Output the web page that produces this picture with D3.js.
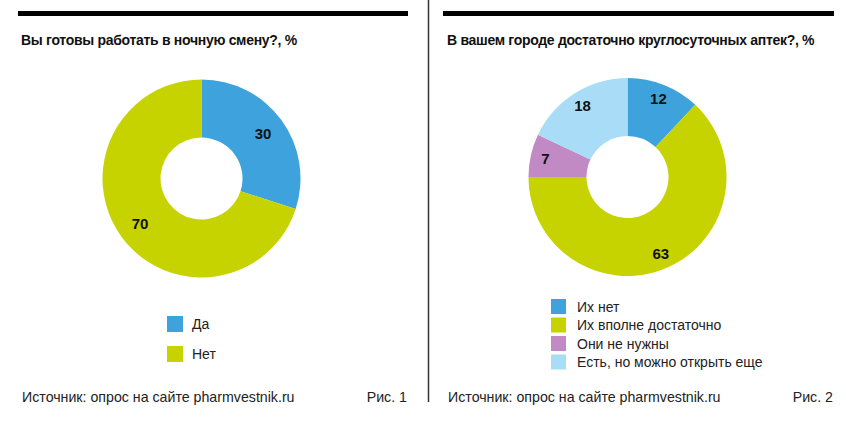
<!DOCTYPE html>
<html><head><meta charset="utf-8">
<script src="https://cdn.jsdelivr.net/npm/d3@7"></script>
<style>body{margin:0;background:#fff;} svg{display:block;font-family:"Liberation Sans",Arial,sans-serif;}</style>
</head><body>
<svg id="c" width="846" height="425"></svg>
<script>
const title1 = "Вы готовы работать в ночную смену?, %";
const categories1 = ["Да", "Нет"];
const values1 = [30, 70];
const colors1 = ["#3ea3dd", "#c6d300"];

const title2 = "В вашем городе достаточно круглосуточных аптек?, %";
const categories2 = ["Их нет", "Их вполне достаточно", "Они не нужны", "Есть, но можно открыть еще"];
const values2 = [12, 63, 7, 18];
const colors2 = ["#3ea3dd", "#c6d300", "#c28ac4", "#a8dcf7"];

const source = "Источник: опрос на сайте pharmvestnik.ru";
const figs = ["Рис. 1", "Рис. 2"];

const svg = d3.select("#c");

// separator
svg.append("line").attr("x1", 428.5).attr("x2", 428.5).attr("y1", 0).attr("y2", 402)
  .attr("stroke", "#333").attr("stroke-width", 1.5);

function panel(cfg) {
  const g = svg.append("g");
  g.append("rect").attr("x", cfg.x0).attr("y", 11).attr("width", cfg.x1 - cfg.x0).attr("height", 5).attr("fill", "#000");
  g.append("text").attr("x", cfg.tx).attr("y", 45).attr("font-size", 14).attr("font-weight", "bold")
    .attr("letter-spacing", "-0.3px").attr("fill", "#111").text(cfg.title);

  const pie = d3.pie().sort(null).value(d => d)(cfg.values);
  const arc = d3.arc().innerRadius(41).outerRadius(99);
  const labelArc = d3.arc().innerRadius(cfg.lr).outerRadius(cfg.lr);
  const pg = g.append("g").attr("transform", `translate(${cfg.cx},${cfg.cy})`);
  pg.selectAll("path").data(pie).join("path").attr("d", arc).attr("fill", (d, i) => cfg.colors[i]);
  pg.selectAll("text").data(pie).join("text")
    .attr("transform", d => `translate(${labelArc.centroid(d)})`)
    .attr("text-anchor", "middle").attr("dy", "0.36em")
    .attr("font-size", 15).attr("font-weight", "bold").attr("fill", "#111")
    .text(d => d.data);

  const lg = g.append("g");
  cfg.cats.forEach((c, i) => {
    const y = cfg.ly + i * cfg.lstep;
    lg.append("rect").attr("x", cfg.lx).attr("y", y).attr("width", cfg.ls).attr("height", cfg.ls).attr("fill", cfg.colors[i]);
    lg.append("text").attr("x", cfg.lx + cfg.ltx).attr("y", y + cfg.ls / 2).attr("dy", "0.36em")
      .attr("font-size", 14).attr("fill", "#222").text(c);
  });

  g.append("text").attr("x", cfg.tx + 1).attr("y", 402).attr("font-size", 14.2).attr("fill", "#222").text(source);
  g.append("text").attr("x", cfg.x1 - 1).attr("y", 402).attr("font-size", 14.2).attr("fill", "#222")
    .attr("text-anchor", "end").text(cfg.fig);
}

panel({x0: 18, x1: 408, tx: 21, title: title1, values: values1, colors: colors1, cats: categories1,
  cx: 201.5, cy: 178.5, lr: 76, lx: 167, ly: 316, lstep: 30, ls: 16, ltx: 25, fig: figs[0]});
panel({x0: 443, x1: 834, tx: 447, title: title2, values: values2, colors: colors2, cats: categories2,
  cx: 627.5, cy: 177, lr: 84, lx: 551, ly: 299, lstep: 18.5, ls: 15, ltx: 26, fig: figs[1]});
</script>
</body></html>
